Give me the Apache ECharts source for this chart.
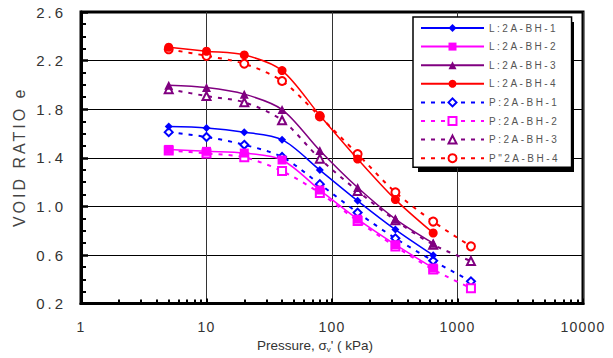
<!DOCTYPE html>
<html>
<head>
<meta charset="utf-8">
<script src="https://cdn.jsdelivr.net/npm/echarts@6/dist/echarts.min.js"></script>
<style>
  html, body { margin: 0; padding: 0; background: #fff; }
  #wrap { position: relative; width: 613px; height: 358px; }
  #legendShadow { position: absolute; left: 418px; top: 22px; width: 156px; height: 150px; background: #000; }
  #chart { position: absolute; left: 0; top: 0; width: 613px; height: 358px; }
  #chart text[style*="15px"] { letter-spacing: 3px; }
  #chart text[style*="14px"] { letter-spacing: 1.2px; }
  #chart text[style*="10px"] { letter-spacing: 2.5px; }
  #chart text[style*="16px"] { letter-spacing: 3px; }
</style>
</head>
<body>
<div id="wrap">
  <div id="legendShadow"></div>
  <div id="chart"></div>
</div>
<script>
// Pressure (kPa) at each load step
const pressureL = [5, 10, 20, 40, 80, 160, 320, 640];
const pressureP = [5, 10, 20, 40, 80, 160, 320, 640, 1280];

// Void ratio, laboratory (L) curves
const L_BH1 = [1.657, 1.646, 1.611, 1.549, 1.299, 1.046, 0.809, 0.598];
const L_BH2 = [1.469, 1.453, 1.439, 1.382, 1.135, 0.895, 0.685, 0.493];
const L_BH3 = [1.997, 1.978, 1.924, 1.797, 1.460, 1.155, 0.896, 0.697];
const L_BH4 = [2.310, 2.277, 2.247, 2.118, 1.749, 1.390, 1.056, 0.781];

// Void ratio, predicted (P) curves
const P_BH1 = [1.611, 1.571, 1.507, 1.407, 1.183, 0.949, 0.737, 0.553, 0.383];
const P_BH2 = [1.460, 1.436, 1.404, 1.291, 1.110, 0.880, 0.670, 0.480, 0.327];
const P_BH3 = [1.965, 1.908, 1.857, 1.709, 1.393, 1.127, 0.885, 0.685, 0.550];
const P_BH4 = [2.293, 2.239, 2.174, 2.032, 1.740, 1.431, 1.116, 0.875, 0.671];

const seriesNames = ['L:2A-BH-1', 'L:2A-BH-2', 'L:2A-BH-3', 'L:2A-BH-4',
                     'P:2A-BH-1', 'P:2A-BH-2', 'P:2A-BH-3', 'P"2A-BH-4'];
const colors = ['#0000ff', '#ff00ff', '#800080', '#ff0000'];

// Log-axis minor tick positions (2..9 per decade)
const minorTickValues = [2,3,4,5,6,7,8,9, 20,30,40,50,60,70,80,90,
  200,300,400,500,600,700,800,900, 2000,3000,4000,5000,6000,7000,8000,9000];

const yTickLabelsMin = 0.2, yTickLabelsMax = 2.6, yTickStep = 0.4;

function pairs(xs, ys) { return ys.map((v, i) => [xs[i], v]); }

const lSets = [L_BH1, L_BH2, L_BH3, L_BH4];
const pSets = [P_BH1, P_BH2, P_BH3, P_BH4];
const lSymbols = ['diamond', 'rect', 'triangle', 'circle'];
const lSizes = [8, 9, 9, 9];
const pSymbols = ['emptyDiamond', 'emptyRect', 'emptyTriangle', 'emptyCircle'];

const series = [];
lSets.forEach((d, i) => {
  series.push({
    name: seriesNames[i], type: 'line', data: pairs(pressureL, d),
    smooth: 0.3, symbol: lSymbols[i], symbolSize: lSizes[i],
    lineStyle: { color: colors[i], width: 1.5, type: 'solid' },
    itemStyle: { color: colors[i] }, z: 3
  });
});
pSets.forEach((d, i) => {
  series.push({
    name: seriesNames[i + 4], type: 'line', data: pairs(pressureP, d),
    smooth: 0.3, symbol: pSymbols[i], symbolSize: 8,
    lineStyle: { color: colors[i], width: 2, type: [4, 6] },
    itemStyle: { color: colors[i], borderWidth: 1.5 }, z: 2
  });
});

const chart = echarts.init(document.getElementById('chart'), null, { renderer: 'svg' });
chart.setOption({
  animation: false,
  backgroundColor: 'transparent',
  textStyle: { fontFamily: 'Liberation Sans, Arial, sans-serif' },
  grid: { left: 81, right: 30, top: 12, bottom: 49, show: true, borderColor: '#000', borderWidth: 3 },
  legend: {
    data: seriesNames, orient: 'vertical', left: 413, top: 17, z: 5,
    itemWidth: 63, itemHeight: 10, itemGap: 6.6,
    padding: [5, 34, 3, 7],
    backgroundColor: '#fff', borderColor: '#000', borderWidth: 1.5,
    textStyle: { fontSize: 10, color: '#555', lineHeight: 12, fontFamily: 'Liberation Sans, Arial, sans-serif' }
  },
  xAxis: [{
    type: 'log', logBase: 10, min: 1, max: 10000, position: 'bottom',
    name: "Pressure, σ{s|v}' ( kPa)", nameLocation: 'middle', nameGap: 27,
    nameTextStyle: { fontSize: 13.5, color: '#333', padding: [0, 34, 0, 0],
      rich: { s: { fontSize: 8, color: '#333', padding: [7, 0, 0, 0] } } },
    axisLine: { lineStyle: { color: '#000', width: 3 } },
    axisTick: { inside: true, length: 5, lineStyle: { color: '#000', width: 2 } },
    axisLabel: { fontSize: 14, color: '#333', margin: 16, formatter: v => String(Math.round(v)) },
    splitLine: { show: true, lineStyle: { color: '#333', width: 1 } },
    minorTick: { show: false }
  }, {
    // overlay axis in log10 units carrying the 2..9 minor ticks of each decade
    type: 'value', min: 0, max: 4, interval: 1, position: 'bottom', offset: 0,
    axisLine: { show: false },
    axisLabel: { show: false },
    splitLine: { show: false },
    axisTick: { show: true, inside: true, length: 4,
      customValues: minorTickValues.map(v => Math.log10(v)),
      lineStyle: { color: '#000', width: 2 } }
  }],
  yAxis: {
    type: 'value', min: yTickLabelsMin, max: yTickLabelsMax, interval: yTickStep,
    name: 'VOID RATIO e', nameLocation: 'middle', nameGap: 54, nameRotate: 90,
    nameTextStyle: { fontSize: 16, color: '#444', padding: [0, 0, 0, 2] },
    axisLine: { lineStyle: { color: '#000', width: 3 } },
    axisTick: { inside: true, length: 7, lineStyle: { color: '#000', width: 2.5 } },
    minorTick: { show: true, splitNumber: 4, length: 5, lineStyle: { color: '#000', width: 2 } },
    axisLabel: { fontSize: 15, color: '#333', margin: 15, formatter: v => v.toFixed(1) },
    splitLine: { show: true, lineStyle: { color: '#000', width: 1 } }
  },
  series: series
});
</script>
</body>
</html>
